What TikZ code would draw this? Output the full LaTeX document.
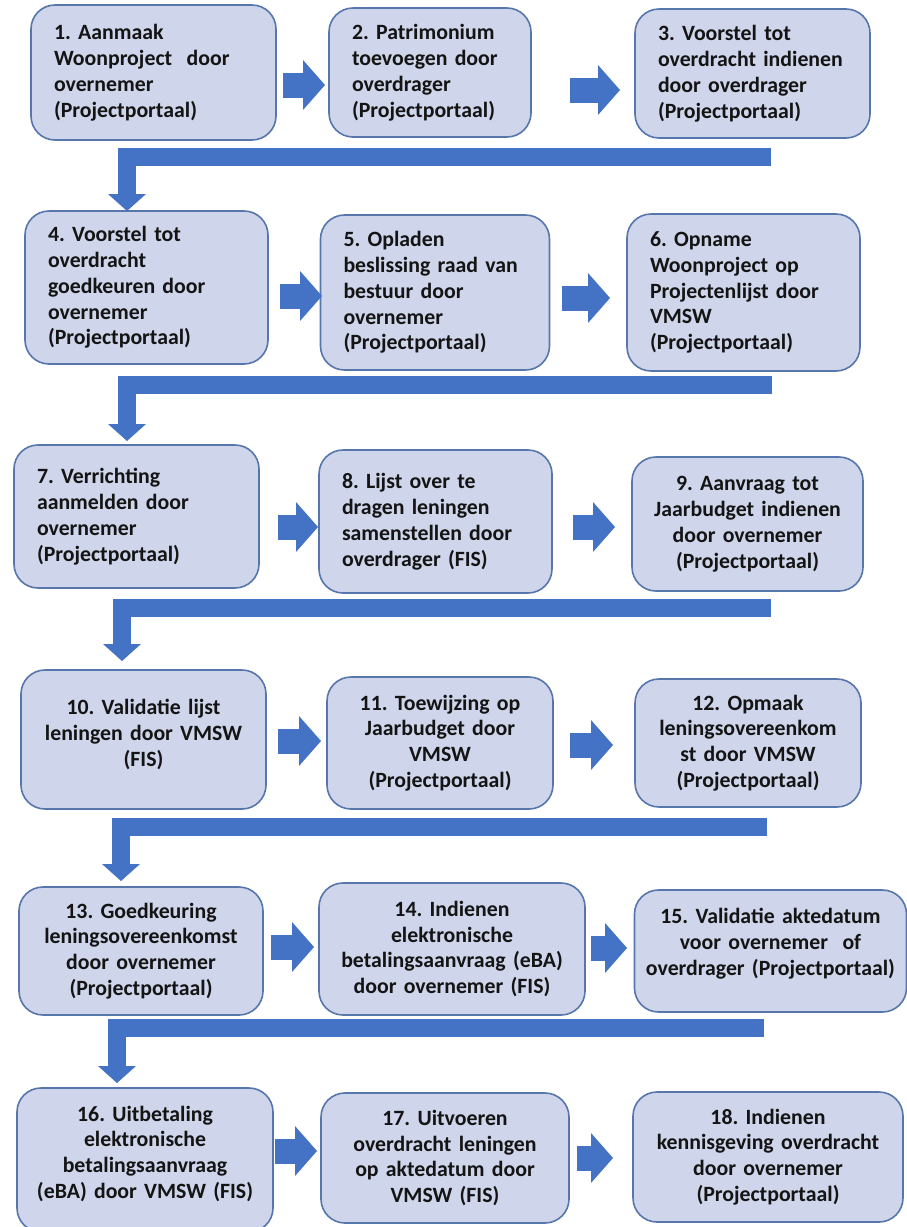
\documentclass[tikz,border=0pt]{standalone}
\usepackage{fontspec}
\setmainfont{Carlito}
\usetikzlibrary{arrows.meta}
\definecolor{boxfill}{HTML}{CFD5EA}
\definecolor{boxline}{HTML}{5676AC}
\definecolor{arrowblue}{HTML}{4472C4}
\definecolor{txt}{HTML}{141414}
\frenchspacing
\begin{document}
\begin{tikzpicture}[x=1pt,y=-1pt,
  stepbox/.style={draw=boxline, line width=1.6pt, fill=boxfill, rounded corners=24pt,
    font=\fontsize{21.8}{25.8}\selectfont\bfseries, text=txt, inner ysep=4pt},
  lbox/.style={stepbox, align=left, inner xsep=23pt},
  cbox/.style={stepbox, align=center, inner xsep=6pt},
  blk/.style={arrowblue, line width=25pt, -{Triangle[length=22pt,width=50pt,line width=0pt]}},
  bent/.style={arrowblue, line width=18pt, line join=miter, -{Triangle[length=17pt,width=38pt,line width=0pt]}}]
\fill[white] (0,0) rectangle (907,1227);
\useasboundingbox (0,0) rectangle (907,1227);
\clip (0,0) rectangle (907,1227);

% row 1
\node[lbox, minimum width=245pt, minimum height=135pt, text width=199pt] (b1) at (153.5,72.5)
  {1. Aanmaak\\Woonproject~~door\\overnemer\\(Projectportaal)};
\node[lbox, minimum width=202pt, minimum height=129pt, text width=156pt] (b2) at (430,72.5)
  {2. Patrimonium\\toevoegen door\\overdrager\\(Projectportaal)};
\node[lbox, minimum width=235pt, minimum height=129pt, text width=189pt] (b3) at (752.5,73.5)
  {3. Voorstel tot\\overdracht indienen\\door overdrager\\(Projectportaal)};
% row 2
\node[lbox, minimum width=243pt, minimum height=153pt, text width=197pt] (b4) at (146.5,287.5)
  {4. Voorstel tot\\overdracht\\goedkeuren door\\overnemer\\(Projectportaal)};
\node[lbox, minimum width=229pt, minimum height=155pt, text width=183pt] (b5) at (435,292.5)
  {5. Opladen\\beslissing raad van\\bestuur door\\overnemer\\(Projectportaal)};
\node[lbox, minimum width=233pt, minimum height=157pt, text width=187pt] (b6) at (743.5,292.5)
  {6. Opname\\Woonproject op\\Projectenlijst door\\VMSW\\(Projectportaal)};
% row 3
\node[lbox, minimum width=245pt, minimum height=143pt, text width=199pt] (b7) at (136.5,516.5)
  {7. Verrichting\\aanmelden door\\overnemer\\(Projectportaal)};
\node[lbox, minimum width=233pt, minimum height=143pt, text width=187pt] (b8) at (435.5,521.5)
  {8. Lijst over te\\dragen leningen\\samenstellen door\\overdrager (FIS)};
\node[cbox, minimum width=231pt, minimum height=134pt, text width=219pt] (b9) at (747.5,524)
  {9. Aanvraag tot\\Jaarbudget indienen\\door overnemer\\(Projectportaal)};
% row 4
\node[cbox, minimum width=245pt, minimum height=139pt, text width=233pt] (b10) at (143.5,739.5)
  {10. Validatie lijst\\leningen door VMSW\\(FIS)\\[-12pt]\mbox{}};
\node[cbox, minimum width=226pt, minimum height=132pt, text width=214pt] (b11) at (440,743)
  {11. Toewijzing op\\Jaarbudget door\\VMSW\\(Projectportaal)};
\node[cbox, minimum width=226pt, minimum height=128pt, text width=214pt] (b12) at (748,743)
  {12. Opmaak\\leningsovereenkom\\st door VMSW\\(Projectportaal)};
% row 5
\node[cbox, minimum width=244pt, minimum height=128pt, text width=232pt] (b13) at (141,951)
  {13. Goedkeuring\\leningsovereenkomst\\door overnemer\\(Projectportaal)};
\node[cbox, minimum width=266pt, minimum height=132pt, text width=254pt] (b14) at (452,949)
  {14. Indienen\\elektronische\\betalingsaanvraag (eBA)\\door overnemer (FIS)};
\node[cbox, minimum width=272pt, minimum height=122pt, text width=260pt] (b15) at (770.5,951)
  {15. Validatie aktedatum\\voor overnemer~~of\\overdrager (Projectportaal)\\[-8pt]\mbox{}};
% row 6
\node[cbox, minimum width=256pt, minimum height=144pt, text width=244pt] (b16) at (145,1160)
  {16. Uitbetaling\\elektronische\\betalingsaanvraag\\(eBA) door VMSW (FIS)\\[-10pt]\mbox{}};
\node[cbox, minimum width=248pt, minimum height=130pt, text width=236pt] (b17) at (445,1158)
  {17. Uitvoeren\\overdracht leningen\\op aktedatum door\\VMSW (FIS)};
\node[cbox, minimum width=270pt, minimum height=130pt, text width=258pt] (b18) at (768,1157)
  {18. Indienen\\kennisgeving overdracht\\door overnemer\\(Projectportaal)};

% horizontal block arrows
\draw[blk] (283,85) -- (325,85);
\draw[blk] (570,90) -- (620,90);
\draw[blk] (280,296) -- (322,296);
\draw[blk] (562,298) -- (610,298);
\draw[blk] (278,527) -- (318,527);
\draw[blk] (573,527) -- (615,527);
\draw[blk] (278,741) -- (321,741);
\draw[blk] (570,745) -- (613,745);
\draw[blk] (271,947) -- (314,947);
\draw[blk] (591,948) -- (627,948);
\draw[blk] (275,1151) -- (317,1151);
\draw[blk] (577,1158) -- (613,1158);

% bent arrows between rows
\draw[bent] (771,156.5) -- (127,156.5) -- (127,211);
\draw[bent] (772,384.5) -- (127,384.5) -- (127,441);
\draw[bent] (771,607.5) -- (122,607.5) -- (122,661);
\draw[bent] (767,826.5) -- (121,826.5) -- (121,881);
\draw[bent] (764,1027.5) -- (117,1027.5) -- (117,1083);
\end{tikzpicture}
\end{document}
